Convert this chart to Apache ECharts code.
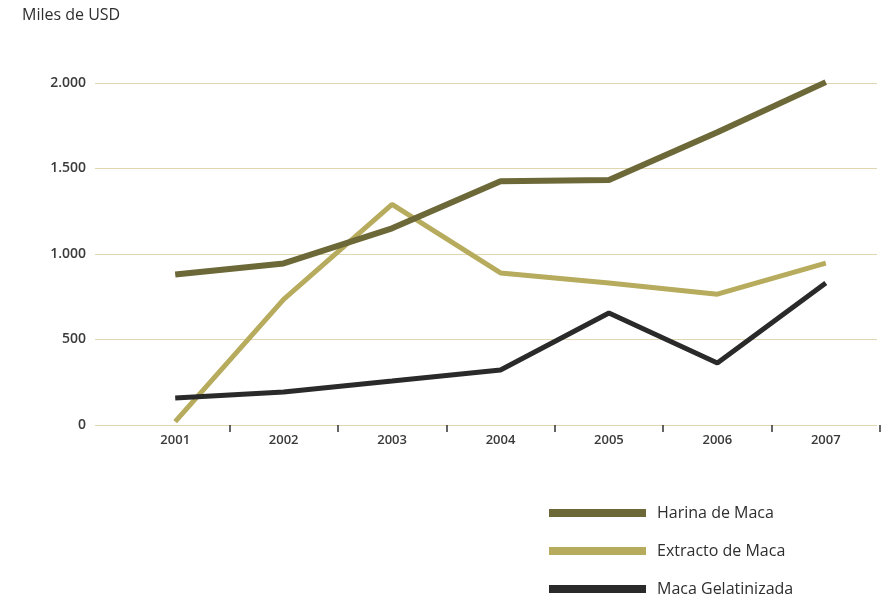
<!DOCTYPE html>
<html>
<head>
<meta charset="utf-8">
<script src="https://cdn.jsdelivr.net/npm/echarts@6/dist/echarts.min.js"></script>
<style>
html,body{margin:0;padding:0;background:#fff;}
#chart{width:888px;height:599px;}
</style>
</head>
<body>
<div id="chart"></div>
<script>
var categories = ['2001','2002','2003','2004','2005','2006','2007'];
var harina = [880, 945, 1150, 1425, 1433, 1712, 2005];
var extracto = [20, 735, 1290, 889, 830, 765, 947];
var gelatinizada = [158, 193, 257, 322, 655, 363, 830];
var yTicks = [0, 500, 1000, 1500, 2000];
var seriesNames = ['Harina de Maca', 'Extracto de Maca', 'Maca Gelatinizada'];

var FONT = '"Open Sans", "Noto Sans", sans-serif';
var colors = ['#6c6837', '#b7ab5d', '#2a2a2a'];

var chart = echarts.init(document.getElementById('chart'), null, {renderer: 'canvas'});

function fmt(v) {
  return String(v).replace(/\B(?=(\d{3})+(?!\d))/g, '.');
}

var option = {
  backgroundColor: '#ffffff',
  animation: false,
  title: {
    text: 'Miles de USD',
    left: 22,
    top: 7,
    padding: 0,
    textStyle: {fontFamily: FONT, fontSize: 16, fontWeight: 'normal', color: '#2e2e2e'}
  },
  legend: {
    orient: 'vertical',
    left: 549,
    top: 502,
    height: 110,
    padding: 0,
    itemWidth: 97,
    itemHeight: 8,
    itemGap: 16,
    icon: 'rect',
    data: seriesNames,
    textStyle: {fontFamily: FONT, fontSize: 16, color: '#2e2e2e', padding: [0,0,0,6], lineHeight: 22}
  },
  grid: [
    {left: 95, right: 11, top: 83, bottom: 174},
    {left: 121, right: 8, top: 83, bottom: 174}
  ],
  xAxis: [
    {gridIndex: 0, type: 'category', data: categories, show: false},
    {
      gridIndex: 1, type: 'category', data: categories, boundaryGap: true,
      axisLine: {show: false},
      axisTick: {show: true, length: 7, lineStyle: {color: '#333', width: 1.5},
        interval: function (idx) { return idx !== 0; }},
      axisLabel: {fontFamily: FONT, fontSize: 13, fontWeight: 600, color: '#3a3a3a', margin: 9}
    }
  ],
  yAxis: [
    {
      gridIndex: 0, type: 'value', min: yTicks[0], max: yTicks[yTicks.length - 1], interval: 500,
      axisLine: {show: false}, axisTick: {show: false},
      splitLine: {show: true, lineStyle: {color: '#e0d6b2', width: 1.2}},
      axisLabel: {fontFamily: FONT, fontSize: 14, fontWeight: 600, color: '#3a3a3a', margin: 9,
        formatter: function (v) { return fmt(v); }}
    },
    {
      gridIndex: 1, type: 'value', min: yTicks[0], max: yTicks[yTicks.length - 1], interval: 500,
      show: false, splitLine: {show: false}
    }
  ],
  series: [
    {name: seriesNames[0], type: 'line', data: harina, xAxisIndex: 1, yAxisIndex: 1,
      showSymbol: false, clip: false, lineStyle: {color: colors[0], width: 6}, itemStyle: {color: colors[0]}, z: 3},
    {name: seriesNames[1], type: 'line', data: extracto, xAxisIndex: 1, yAxisIndex: 1,
      showSymbol: false, clip: false, lineStyle: {color: colors[1], width: 5}, itemStyle: {color: colors[1]}, z: 2},
    {name: seriesNames[2], type: 'line', data: gelatinizada, xAxisIndex: 1, yAxisIndex: 1,
      showSymbol: false, clip: false, lineStyle: {color: colors[2], width: 5}, itemStyle: {color: colors[2]}, z: 4}
  ]
};
chart.setOption(option);
</script>
</body>
</html>
